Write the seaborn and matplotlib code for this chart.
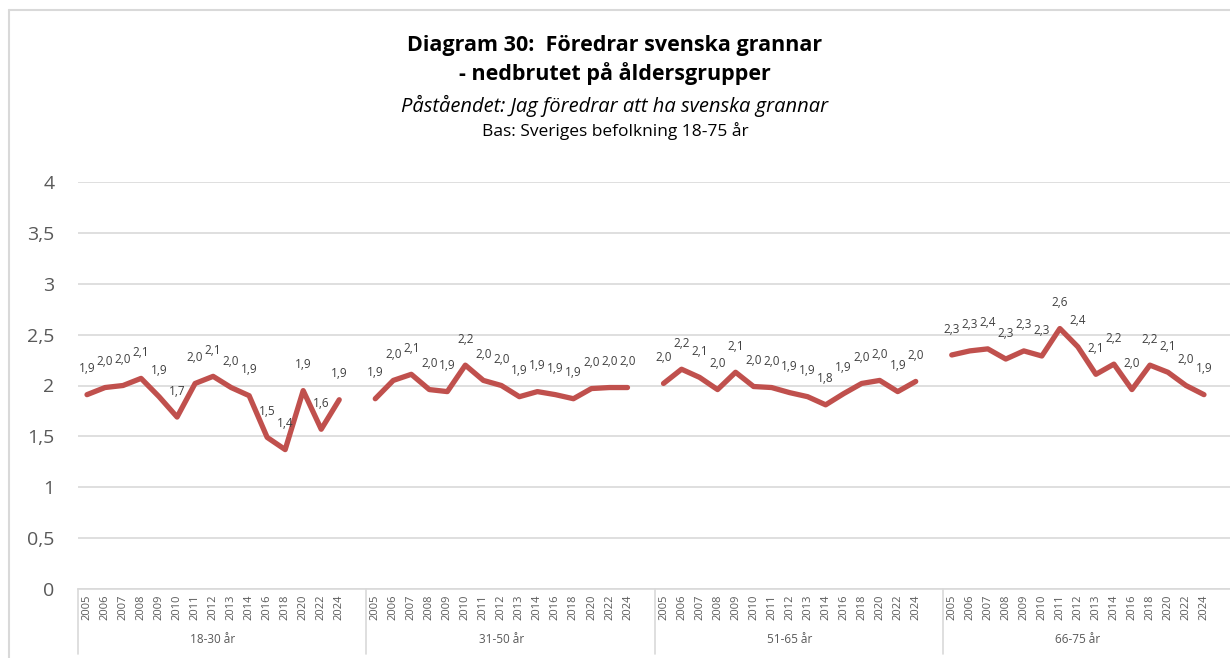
import matplotlib
matplotlib.use("Agg")
import matplotlib.pyplot as plt
import matplotlib.transforms as mtransforms
from matplotlib.lines import Line2D
import seaborn as sns
import pandas as pd

groups = ["18-30 år", "31-50 år", "51-65 år", "66-75 år"]
years = ["2005", "2006", "2007", "2008", "2009", "2010", "2011", "2012",
         "2013", "2014", "2016", "2018", "2020", "2022", "2024"]
v_18_30 = [1.91, 1.98, 2.00, 2.07, 1.89, 1.69, 2.02, 2.09, 1.98, 1.90, 1.49, 1.37, 1.95, 1.57, 1.86]
v_31_50 = [1.87, 2.05, 2.11, 1.96, 1.94, 2.20, 2.05, 2.00, 1.89, 1.94, 1.91, 1.87, 1.97, 1.98, 1.98]
v_51_65 = [2.02, 2.16, 2.08, 1.96, 2.13, 1.99, 1.98, 1.93, 1.89, 1.81, 1.92, 2.02, 2.05, 1.94, 2.04]
v_66_75 = [2.30, 2.34, 2.36, 2.26, 2.34, 2.29, 2.56, 2.38, 2.11, 2.21, 1.96, 2.20, 2.13, 2.00, 1.91]
series = [v_18_30, v_31_50, v_51_65, v_66_75]

slots = len(years) + 1  # one blank category after each group

rows = []
for gi, (g, vals) in enumerate(zip(groups, series)):
    for yi, (yr, v) in enumerate(zip(years, vals)):
        rows.append({"group": g, "year": yr, "value": v, "pos": gi * slots + yi})
df = pd.DataFrame(rows)

sns.set_theme(style="white")
plt.rcParams["font.family"] = ["Open Sans", "DejaVu Sans"]

fig = plt.figure(figsize=(12.3, 6.58), dpi=100)
ax = fig.add_axes([78 / 1230, 69 / 658, (1231 - 78) / 1230, (589 - 182) / 658])

red = "#C0504D"
sns.lineplot(data=df, x="pos", y="value", units="group", estimator=None,
             color=red, linewidth=3.8, ax=ax, legend=False)

ax.set_xlim(-0.5, len(groups) * slots - 0.5)
ax.set_ylim(0, 4)
ax.set_yticks([0, 0.5, 1, 1.5, 2, 2.5, 3, 3.5, 4])
ax.set_yticklabels(["0", "0,5", "1", "1,5", "2", "2,5", "3", "3,5", "4"],
                   fontsize=14, color="#595959")
ax.yaxis.grid(True, color="#D9D9D9", linewidth=1.2)
ax.xaxis.grid(False)
for s in ["top", "right", "left"]:
    ax.spines[s].set_visible(False)
ax.spines["bottom"].set_color("#D9D9D9")
ax.spines["bottom"].set_linewidth(1.2)
ax.tick_params(axis="y", length=0, pad=17)
ax.tick_params(axis="x", length=0, pad=4)

ax.set_xticks(df["pos"].tolist())
ax.set_xticklabels(df["year"].tolist(), rotation=90, fontsize=8, color="#595959")
ax.set_xlabel("")
ax.set_ylabel("")

# data labels
for _, r in df.iterrows():
    ax.annotate(f"{r['value']:.1f}".replace(".", ","), (r["pos"], r["value"]),
                xytext=(0, 14), textcoords="offset points", ha="center", va="bottom",
                fontsize=8.5, color="#404040")

# group labels and dividers
trans = mtransforms.blended_transform_factory(ax.transData, ax.transAxes)
for gi, g in enumerate(groups):
    center = gi * slots + (len(years) - 1) / 2
    ax.text(center, -0.125, g, transform=trans, ha="center", va="center",
            fontsize=8.5, color="#595959")
for gi in range(len(groups) + 1):
    xb = gi * slots - 0.5
    ax.plot([xb, xb], [0, -0.16], transform=trans, color="#D9D9D9",
            linewidth=1.2, clip_on=False)

# chart-area border (left and top edges visible)
W, H = 1230, 658
fig.add_artist(Line2D([8.5 / W, 8.5 / W], [1 - 9.5 / H, 0], transform=fig.transFigure,
                      color="#D9D9D9", linewidth=1.5))
fig.add_artist(Line2D([8.5 / W, 1], [1 - 9.5 / H, 1 - 9.5 / H], transform=fig.transFigure,
                      color="#D9D9D9", linewidth=1.5))

fig.text(0.5, 1 - 45 / H, "Diagram 30:  Föredrar svenska grannar", ha="center",
         va="center", fontsize=15.5, fontweight="bold", color="black")
fig.text(0.5, 1 - 74 / H, "- nedbrutet på åldersgrupper", ha="center",
         va="center", fontsize=15.5, fontweight="bold", color="black")
fig.text(0.5, 1 - 106 / H, "Påståendet: Jag föredrar att ha svenska grannar",
         ha="center", va="center", fontsize=14.5, fontstyle="italic", color="black")
fig.text(0.5, 1 - 131 / H, "Bas: Sveriges befolkning 18-75 år", ha="center",
         va="center", fontsize=12.5, color="black")

fig.savefig("out.png", dpi=100)
